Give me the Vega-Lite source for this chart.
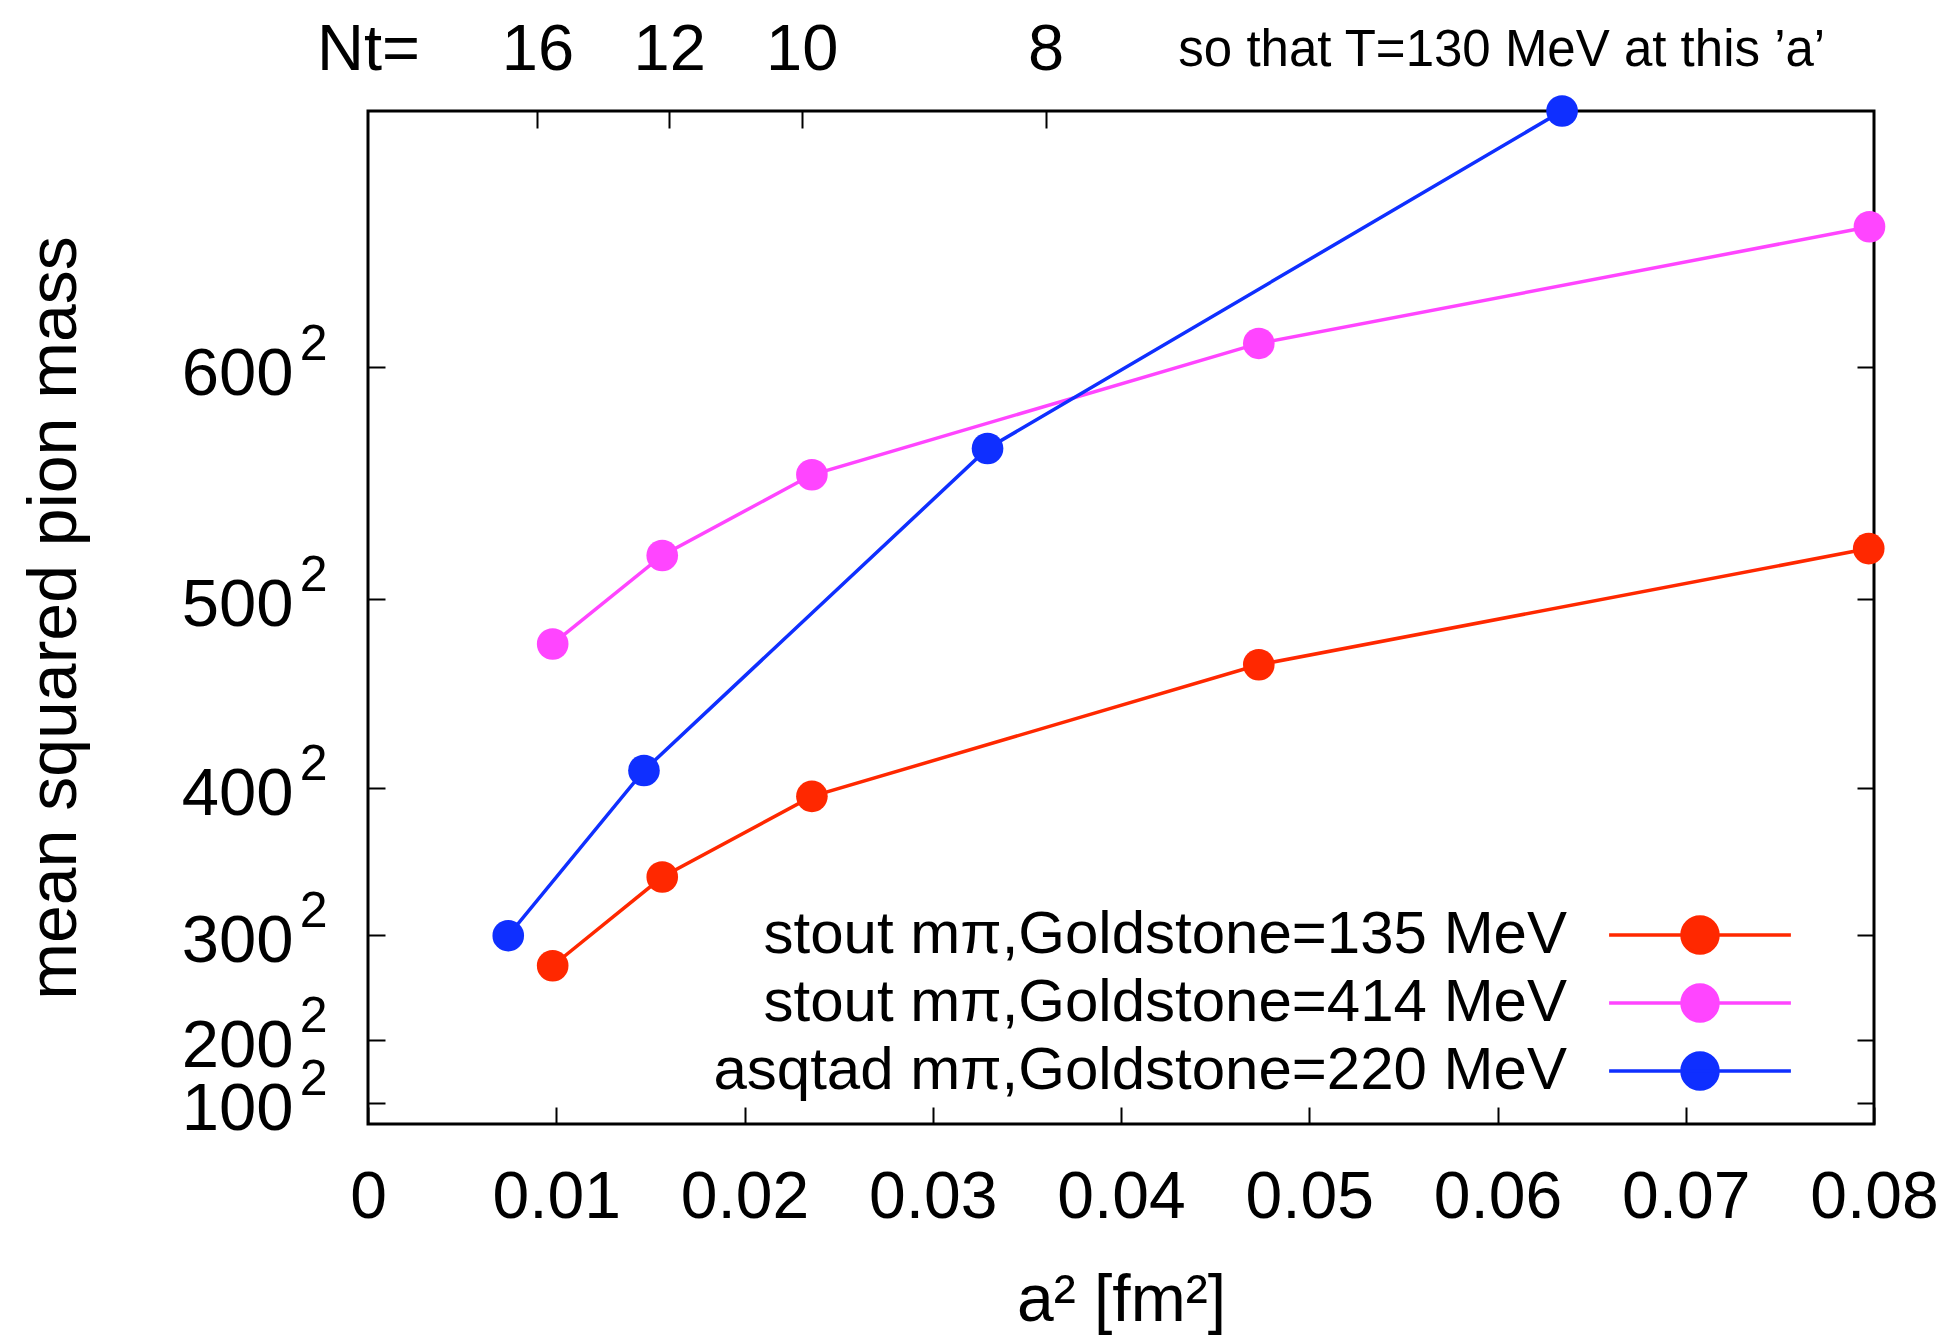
{
  "$schema": "https://vega.github.io/schema/vega-lite/v6.json",
  "width": 1506,
  "height": 1013,
  "autosize": {"type": "none"},
  "padding": {"left": 368, "top": 111, "right": 86, "bottom": 215},
  "background": "white",
  "config": {
    "view": {"stroke": "black", "strokeWidth": 3},
    "font": "Liberation Sans",
    "axis": {
      "grid": false,
      "domain": false,
      "tickColor": "black",
      "tickWidth": 2,
      "labelColor": "black",
      "titleColor": "black",
      "labelFont": "Liberation Sans",
      "titleFont": "Liberation Sans",
      "titleFontWeight": "normal",
      "labelFontSize": 64,
      "titleFontSize": 68,
      "labelFlush": false,
      "labelOverlap": false,
      "labelBound": false,
      "labelLimit": 0
    }
  },
  "data": {
    "values": [
      {"series": "stout mπ,Goldstone=135 MeV", "a2": 0.00981, "m2": 75300},
      {"series": "stout mπ,Goldstone=135 MeV", "a2": 0.01563, "m2": 117500},
      {"series": "stout mπ,Goldstone=135 MeV", "a2": 0.02358, "m2": 155900},
      {"series": "stout mπ,Goldstone=135 MeV", "a2": 0.04732, "m2": 218500},
      {"series": "stout mπ,Goldstone=135 MeV", "a2": 0.07972, "m2": 273800},
      {"series": "stout mπ,Goldstone=414 MeV", "a2": 0.00981, "m2": 228400},
      {"series": "stout mπ,Goldstone=414 MeV", "a2": 0.01563, "m2": 270500},
      {"series": "stout mπ,Goldstone=414 MeV", "a2": 0.02358, "m2": 308900},
      {"series": "stout mπ,Goldstone=414 MeV", "a2": 0.04732, "m2": 371400},
      {"series": "stout mπ,Goldstone=414 MeV", "a2": 0.07976, "m2": 426900},
      {"series": "asqtad mπ,Goldstone=220 MeV", "a2": 0.00745, "m2": 89600},
      {"series": "asqtad mπ,Goldstone=220 MeV", "a2": 0.01466, "m2": 168200},
      {"series": "asqtad mπ,Goldstone=220 MeV", "a2": 0.03291, "m2": 321400},
      {"series": "asqtad mπ,Goldstone=220 MeV", "a2": 0.06343, "m2": 482000}
    ]
  },
  "layer": [
    {
      "mark": {"type": "line", "strokeWidth": 3.5},
      "encoding": {
        "x": {
          "field": "a2", "type": "quantitative",
          "scale": {"domain": [0, 0.08], "nice": false, "zero": false},
          "axis": {
            "orient": "bottom",
            "values": [0, 0.01, 0.02, 0.03, 0.04, 0.05, 0.06, 0.07, 0.08],
            "labelExpr": "datum.value == 0 ? '0' : format(datum.value, '.2f')",
            "labelFontSize": 66,
            "tickSize": -17,
            "labelPadding": 58,
            "title": "a² [fm²]",
            "titleFontSize": 66,
            "titlePadding": 38
          }
        },
        "y": {
          "field": "m2", "type": "quantitative",
          "scale": {"domain": [0, 482000], "nice": false},
          "axis": {
            "orient": "left",
            "values": [10000, 40000, 90000, 160000, 250000, 360000],
            "labelExpr": "format(sqrt(datum.value), 'd')",
            "labelFontSize": 67,
            "tickSize": -17,
            "labelPadding": 92,
            "labelOffset": 7,
            "title": "mean squared pion mass",
            "titlePadding": 92
          }
        },
        "color": {
          "field": "series", "type": "nominal",
          "scale": {
            "domain": ["stout mπ,Goldstone=135 MeV", "stout mπ,Goldstone=414 MeV", "asqtad mπ,Goldstone=220 MeV"],
            "range": ["#ff2800", "#ff45ff", "#0f2fff"]
          },
          "legend": {
            "title": null,
            "orient": "none",
            "legendX": 1302,
            "legendY": 794,
            "padding": 0,
            "symbolType": "M-5.05,0L5.05,0M-1,0A1,1,0,1,0,1,0A1,1,0,1,0,-1,0Z",
            "symbolSize": 1296,
            "symbolStrokeWidth": 3.5,
            "symbolOpacity": 1,
            "labelFont": "Liberation Sans",
            "labelFontSize": 60,
            "labelColor": "black",
            "labelAlign": "right",
            "labelOffset": -163,
            "labelLimit": 0,
            "rowPadding": 8,
            "encode": {
              "symbols": {
                "update": {
                  "fill": {"scale": "color", "field": "value"},
                  "stroke": {"scale": "color", "field": "value"},
                  "strokeWidth": {"value": 3.5},
                  "opacity": {"value": 1}
                }
              }
            }
          }
        }
      }
    },
    {
      "mark": {"type": "point", "filled": true, "size": 1000, "opacity": 1},
      "encoding": {
        "x": {
          "field": "a2", "type": "quantitative",
          "scale": {"domain": [0, 0.08], "nice": false, "zero": false},
          "axis": {
            "orient": "top",
            "values": [0, 0.009, 0.016, 0.02304, 0.036, 0.0602],
            "labelExpr": "datum.value == 0 ? 'Nt=' : datum.value < 0.01 ? '16' : datum.value < 0.02 ? '12' : datum.value < 0.03 ? '10' : datum.value < 0.04 ? '8' : 'so that T=130 MeV at this ’a’'",
            "tickSize": -17,
            "tickOpacity": {"condition": {"test": "datum.value == 0 || datum.value > 0.05", "value": 0}, "value": 1},
            "labelFontSize": {"condition": {"test": "datum.value > 0.05", "value": 51}, "value": 65},
            "labelBaseline": "alphabetic",
            "labelPadding": {"condition": {"test": "datum.value > 0.05", "value": 63}, "value": 59},
            "title": null
          }
        },
        "y": {
          "field": "m2", "type": "quantitative",
          "scale": {"domain": [0, 482000], "nice": false},
          "axis": {
            "orient": "right",
            "values": [10000, 40000, 90000, 160000, 250000, 360000],
            "labels": false,
            "tickSize": -17,
            "title": null
          }
        },
        "color": {
          "field": "series", "type": "nominal",
          "scale": {
            "domain": ["stout mπ,Goldstone=135 MeV", "stout mπ,Goldstone=414 MeV", "asqtad mπ,Goldstone=220 MeV"],
            "range": ["#ff2800", "#ff45ff", "#0f2fff"]
          }
        }
      }
    },
    {
      "mark": {"type": "point", "opacity": 0},
      "encoding": {
        "x": {
          "field": "a2", "type": "quantitative",
          "scale": {"domain": [0, 0.08], "nice": false, "zero": false},
          "axis": null
        },
        "y": {
          "field": "m2", "type": "quantitative",
          "scale": {"domain": [0, 482000], "nice": false},
          "axis": {
            "orient": "left",
            "values": [10000, 40000, 90000, 160000, 250000, 360000],
            "labelExpr": "'2'",
            "labelFontSize": 50,
            "ticks": false,
            "tickSize": 0,
            "labelPadding": 41,
            "labelOffset": -23,
            "title": null
          }
        }
      }
    }
  ],
  "resolve": {"axis": {"x": "independent", "y": "independent"}}
}
